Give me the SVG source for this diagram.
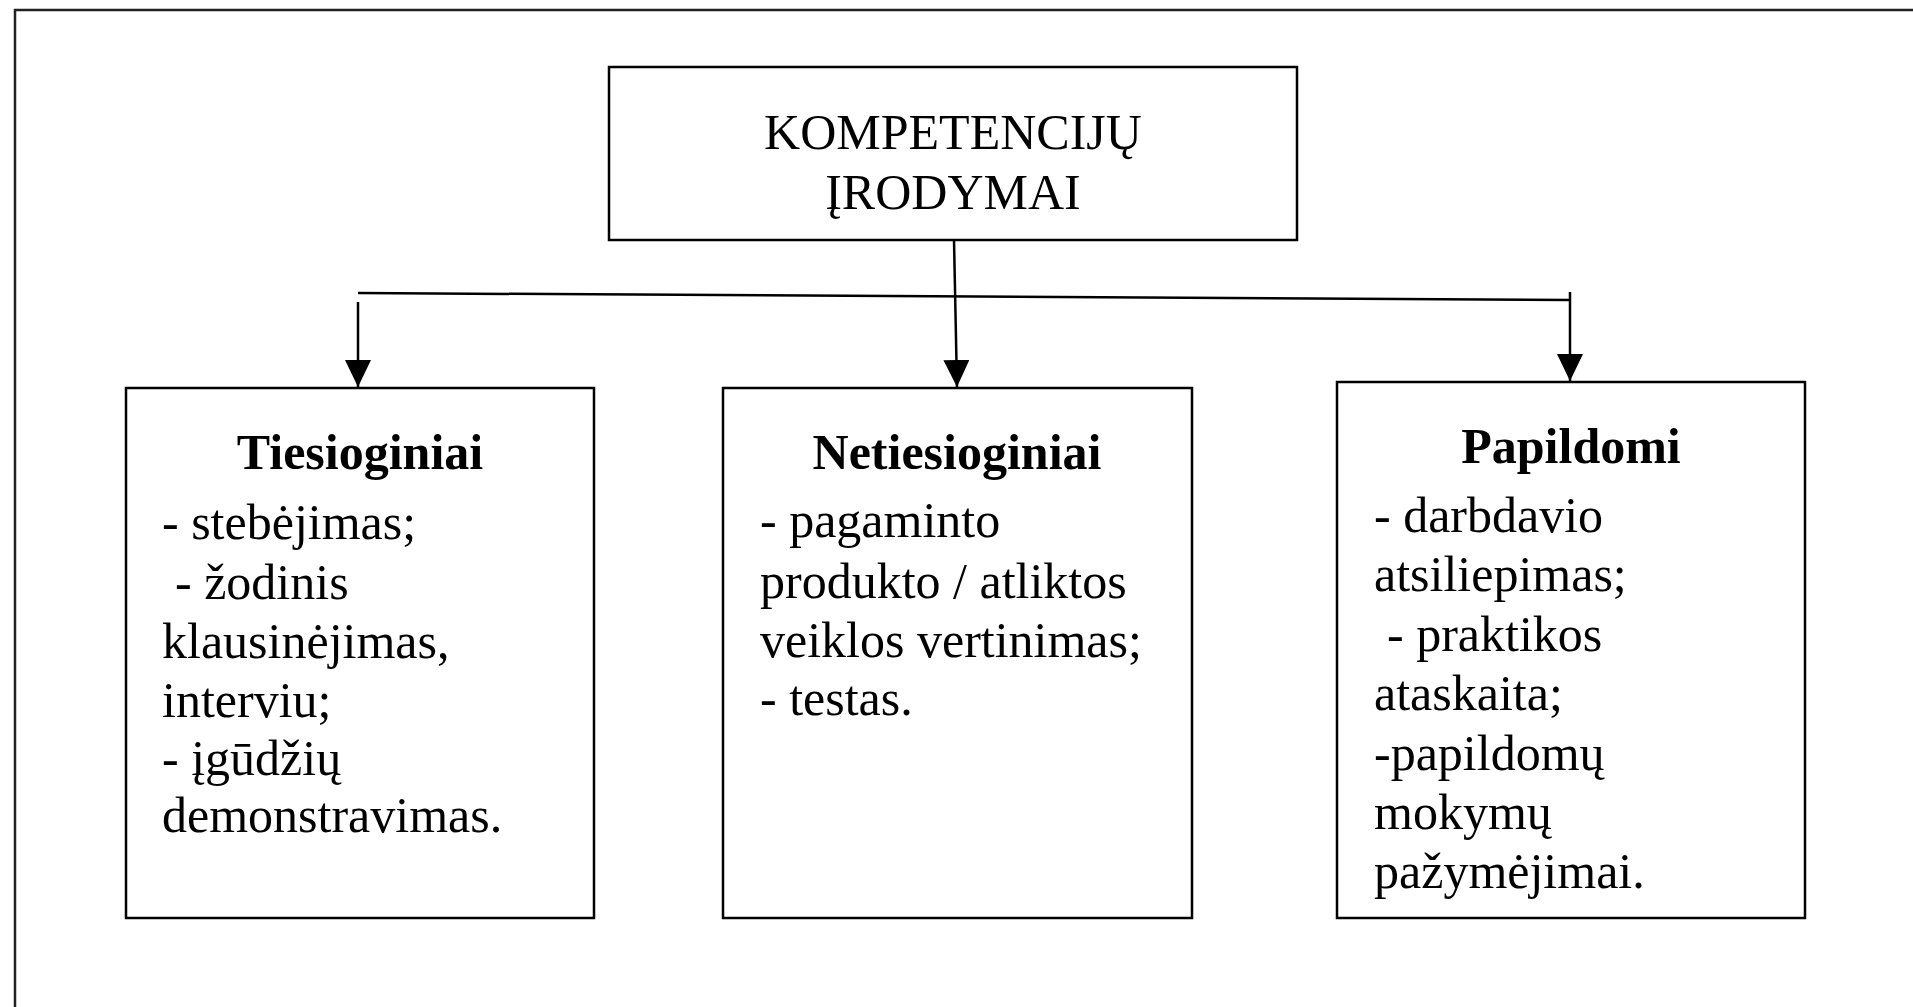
<svg xmlns="http://www.w3.org/2000/svg" width="1913" height="1007" viewBox="0 0 1913 1007">
<style>
.box{fill:#fff;stroke:#000;stroke-width:2.5}
.frame{fill:none;stroke:#222;stroke-width:2.5}
.t{font-family:"Liberation Serif","Times New Roman",serif;font-size:50px;fill:#000}
.h{font-weight:bold;text-anchor:middle}
.c{text-anchor:middle}
.con{stroke:#000;stroke-width:2.5;fill:none}
</style>
<defs>
<marker id="arr" markerUnits="userSpaceOnUse" markerWidth="28" markerHeight="28" refX="27" refY="13" orient="auto">
<path d="M0,0 L27,13 L0,26 z" fill="#000"/>
</marker>
</defs>
<rect class="frame" x="15" y="10" width="2000" height="1100"/>
<g id="connectors">
<line class="con" x1="358" y1="293" x2="1570" y2="300"/>
<line class="con" x1="358" y1="302" x2="358" y2="387" marker-end="url(#arr)"/>
<line class="con" x1="954" y1="240" x2="957" y2="387" marker-end="url(#arr)"/>
<line class="con" x1="1570" y1="292" x2="1570" y2="381" marker-end="url(#arr)"/>
</g>
<g id="node-root">
<rect class="box" x="609" y="67" width="688" height="173"/>
<text class="t c" x="953" y="149">KOMPETENCIJŲ</text>
<text class="t c" x="953" y="209">ĮRODYMAI</text>
</g>
<g id="node-tiesioginiai">
<rect class="box" x="126" y="388" width="468" height="530"/>
<text class="t h" x="360" y="469">Tiesioginiai</text>
<text class="t" x="162" y="539">- stebėjimas;</text>
<text class="t" x="175" y="599">- žodinis</text>
<text class="t" x="162" y="658">klausinėjimas,</text>
<text class="t" x="162" y="717">interviu;</text>
<text class="t" x="162" y="775">- įgūdžių</text>
<text class="t" x="162" y="832">demonstravimas.</text>
</g>
<g id="node-netiesioginiai">
<rect class="box" x="723" y="388" width="469" height="530"/>
<text class="t h" x="957" y="469">Netiesioginiai</text>
<text class="t" x="760" y="537">- pagaminto</text>
<text class="t" x="760" y="598">produkto / atliktos</text>
<text class="t" x="760" y="657">veiklos vertinimas;</text>
<text class="t" x="760" y="715">- testas.</text>
</g>
<g id="node-papildomi">
<rect class="box" x="1337" y="382" width="468" height="536"/>
<text class="t h" x="1571" y="463">Papildomi</text>
<text class="t" x="1374" y="532">- darbdavio</text>
<text class="t" x="1374" y="591">atsiliepimas;</text>
<text class="t" x="1387" y="651">- praktikos</text>
<text class="t" x="1374" y="710">ataskaita;</text>
<text class="t" x="1374" y="770">-papildomų</text>
<text class="t" x="1374" y="829">mokymų</text>
<text class="t" x="1374" y="888">pažymėjimai.</text>
</g>
</svg>
